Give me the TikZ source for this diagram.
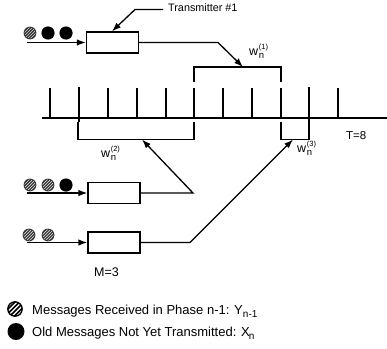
\documentclass[tikz,border=0pt]{standalone}
\usepackage{fontspec}
\setmainfont{Liberation Sans}
\usetikzlibrary{arrows.meta}
\newcommand\wlab[1]{w\kern0.6pt\raisebox{-3.5pt}{\makebox[0pt][l]{\fontsize{9.5}{9.5}\selectfont n}}\raisebox{5.5pt}{\fontsize{7.5}{7.5}\selectfont(#1)}}
\begin{document}
\begin{tikzpicture}[x=1pt,y=-1pt,
  txbox/.style={draw, line width=1.3pt, minimum width=52pt, minimum height=21pt, inner sep=0pt},
  ln/.style={line width=1.2pt},
  arr/.style={line width=1.3pt, -{Latex[length=9pt,width=6.5pt]}},
  tk/.style={line width=1.3pt},
  thicktk/.style={line width=2.7pt},
  lbl/.style={font=\fontsize{13}{15}\selectfont, inner sep=0pt, anchor=base west},
  wl/.style={font=\fontsize{12.5}{14}\selectfont, inner sep=0pt, anchor=base west},
  hball/.pic={
    \fill[black!80] (0,0) circle (6.4);
    \begin{scope}
      \clip (0,0) circle (5.6);
      \foreach \d in {-6,-3,0,3,6} \draw[white!65!gray, line width=0.7pt] ({\d-8},8) -- ({\d+8},-8);
    \end{scope}},
  bball/.pic={\fill[black] (0,0) circle (6.6);}
]
\useasboundingbox (0,0) rectangle (387,348);

% transmitters
\node[txbox] (tx1) at (112.5,42.5) {};
\node[txbox] (tx2) at (114,193) {};
\node[txbox] (tx3) at (114,242.5) {};

% message balls
\pic at (30,33) {hball};
\pic at (48,33) {bball};
\pic at (66,33) {bball};
\pic at (30,185) {hball};
\pic at (48,185) {hball};
\pic at (66,185) {bball};
\pic at (29,235) {hball};
\pic at (48,235) {hball};

% inputs
\coordinate (in1) at (27,42.5);
\coordinate (in2) at (27,193);
\coordinate (in3) at (27,242.5);
\draw[arr] (in1) -- (tx1.west);
\draw[arr] (in2) -- (tx2.west);
\draw[arr] (in3) -- (tx3.west);

% transmitter label
\node[font=\fontsize{10.8}{13}\selectfont, inner sep=0pt, anchor=base west] (tlab) at (168,12) {Transmitter \#1};
\coordinate (tl0) at (163,9.5);
\coordinate (tl1) at (135,9.5);
\draw[arr] (tl0) -- (tl1) -- ([xshift=-0.5pt]tx1.north);

% time line
\draw[ln] (42,118) -- (387,118);
\foreach \x in {50,108,137,166,194,223,252,281,338}
  \draw[tk] (\x,88) -- (\x,118);
\foreach \x in {79,309}
  \draw[thicktk] (\x,87) -- (\x,122);

% brackets
\draw[ln] (194,82) -- (194,67) -- (281,67) -- (281,82);
\draw[ln] (78,122) -- (78,139.5) -- (194,139.5) -- (194,122);
\draw[ln] (281,122) -- (281,139.5) -- (309,139.5) -- (309,122);
\coordinate (b1) at (243,67);
\coordinate (b2) at (142,139.5);
\coordinate (b3) at (293,139.5);

% outputs
\coordinate (k1) at (218,42.5);
\coordinate (k2) at (193,193);
\coordinate (k3) at (190,242.5);
\draw[arr] (tx1.east) -- (k1) -- (b1);
\draw[arr] (tx2.east) -- (k2) -- (b2);
\draw[arr] (tx3.east) -- (k3) -- (b3);

% w labels
\node[wl] (w1) at (249,55) {\wlab{1}};
\node[wl] (w2) at (101,157) {\wlab{2}};
\node[wl] (w3) at (297,152) {\wlab{3}};

\node[lbl, font=\fontsize{11.5}{13}\selectfont] (T) at (346,139) {T=8};
\node[lbl, font=\fontsize{12.5}{14}\selectfont] (M) at (94,276) {M=3};

% legend
\fill[white] (15,309) circle (7.2);
\begin{scope}
  \clip (15,309) circle (7.2);
  \foreach \d in {-7,-2.5,2,6.5} \draw[black, line width=1.6pt] ({15+\d-9},318) -- ({15+\d+9},300);
\end{scope}
\draw[line width=1.3pt] (15,309) circle (7.2);
\fill[black] (16,331.5) circle (8.5);
\node[lbl] (L1) at (32,314) {Messages Received in Phase n-1: Y\raisebox{-3pt}{\fontsize{10}{10}\selectfont n-1}};
\node[lbl] (L2) at (32,336) {Old Messages Not Yet Transmitted: X\kern-1pt\raisebox{-3pt}{\fontsize{10}{10}\selectfont n}};
\end{tikzpicture}
\end{document}
